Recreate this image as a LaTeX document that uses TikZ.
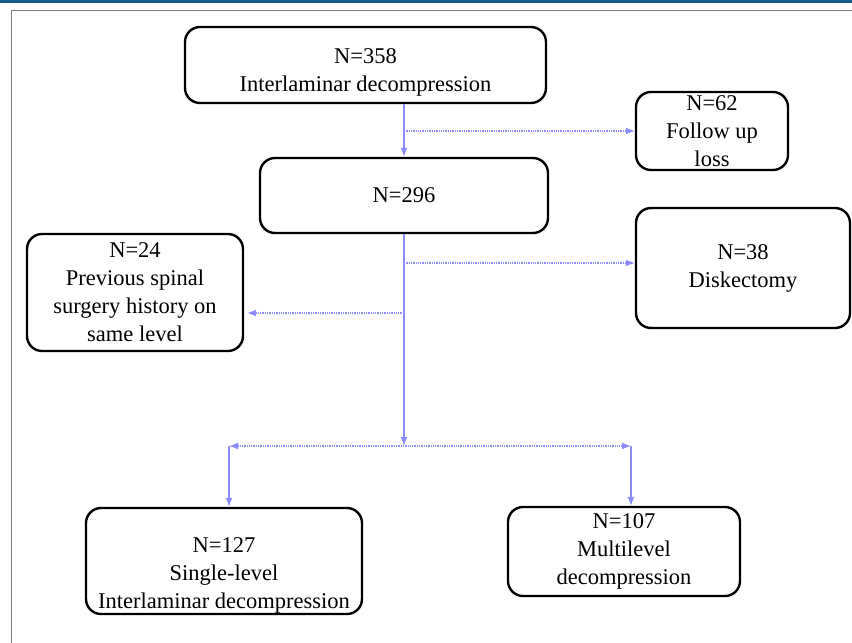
\documentclass[tikz,border=0pt]{standalone}
\usepackage{fontspec}
\setmainfont{Liberation Serif}
\usetikzlibrary{arrows.meta}
\definecolor{flowblue}{RGB}{140,140,255}
\definecolor{topblue}{RGB}{20,90,135}
\begin{document}
\begin{tikzpicture}[x=1pt,y=-1pt,line join=round,
    box/.style={draw,line width=2.4pt,rounded corners=15pt,align=center,inner sep=0pt,
      font=\fontsize{22.5}{28}\selectfont},
    vline/.style={draw=flowblue,line width=1.3pt,-{Latex[length=9pt,width=7pt]}},
    hline/.style={draw=flowblue,line width=1.3pt,densely dotted,-{Latex[length=9pt,width=7pt]}}]
  \useasboundingbox (0,0) rectangle (852,643);
  % frame
  \fill [topblue] (0,0) rectangle (852,2.5);
  \draw [gray,line width=1pt] (11,643) -- (11,10) -- (852,10);

  % boxes
  \node [box,minimum width=361,minimum height=76,text height=58pt] (top) at (365.5,65) {N=358\\Interlaminar decompression};
  \node [box,minimum width=152,minimum height=78] (loss) at (712,131) {N=62\\Follow up\\loss};
  \node [box,minimum width=288,minimum height=75] (n296) at (404,195.5) {N=296};
  \node [box,minimum width=216,minimum height=117] (prev) at (135,292.5) {N=24\\Previous spinal\\surgery history on\\same level};
  \node [box,minimum width=214,minimum height=120] (disk) at (743,268) {N=38\\Diskectomy};
  \node [box,minimum width=276,minimum height=106,text height=99pt] (single) at (224,561) {N=127\\Single-level\\Interlaminar decompression};
  \node [box,minimum width=232,minimum height=89] (multi) at (624,551.5) {N=107\\Multilevel\\decompression};

  % connectors
  \coordinate (b1) at (404,131);
  \coordinate (b2) at (404,263);
  \coordinate (b3) at (404,313);
  \coordinate (split) at (404,446);
  \coordinate (sl) at (229,446);
  \coordinate (sr) at (631,446);
  \draw [vline] (n296.north |- top.south) -- (n296.north);
  \draw [hline] (b1) -- (loss.west |- b1);
  \draw [vline] (n296.south) -- (split);
  \draw [hline] (b2) -- (disk.west |- b2);
  \draw [hline] (b3) -- ([xshift=3pt]prev.east |- b3);
  \draw [hline,{Latex[length=9pt,width=7pt]}-{Latex[length=9pt,width=7pt]}] (sl) -- (sr);
  \draw [vline] (sl) -- (sl |- single.north);
  \draw [vline] (sr) -- (sr |- multi.north);
\end{tikzpicture}
\end{document}
